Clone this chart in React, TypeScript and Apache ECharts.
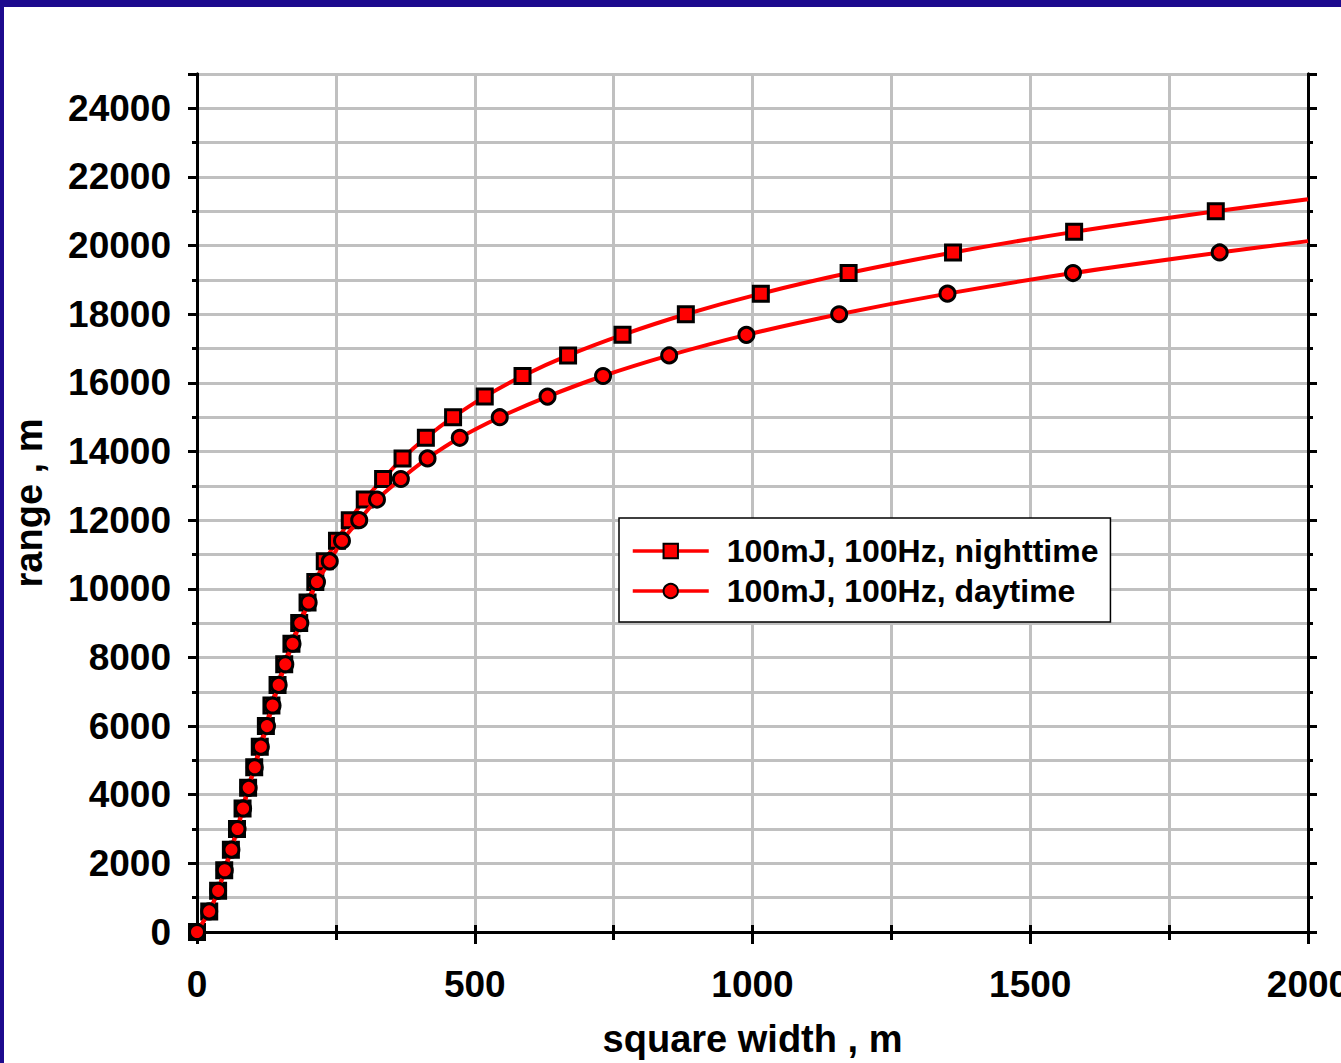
import React, { useEffect, useRef } from "react";
import * as echarts from "echarts";

// range (m) at which each marker sits, and the square width (m)
const rangeNight = [
  0, 600, 1200, 1800, 2400, 3000, 3600, 4200, 4800, 5400, 6000, 6600, 7200, 7800, 8400, 9000, 9600, 10200,
  10800, 11400, 12000, 12600, 13200, 13800, 14400, 15000, 15600, 16200, 16800, 17400, 18000, 18600, 19200,
  19800, 20400, 21000,
];
const widthNight = [
  0, 22, 38, 49, 61, 72, 82, 92, 103, 113, 124, 134, 145, 157, 170, 184, 199, 213, 230, 252, 275, 302, 335,
  370, 412, 461, 518, 586, 668, 766, 880, 1015, 1173, 1361, 1579, 1834,
];
const rangeDay = [
  0, 600, 1200, 1800, 2400, 3000, 3600, 4200, 4800, 5400, 6000, 6600, 7200, 7800, 8400, 9000, 9600, 10200,
  10800, 11400, 12000, 12600, 13200, 13800, 14400, 15000, 15600, 16200, 16800, 17400, 18000, 18600, 19200,
  19800,
];
const widthDay = [
  0, 22, 38, 50, 62, 73, 83, 93, 104, 115, 126, 136, 147, 159, 172, 186, 201, 216, 239, 261, 292, 324, 367,
  415, 473, 545, 631, 731, 850, 989, 1156, 1351, 1577, 1841,
];
// where each curve meets the right edge of the plot
const nightTrendEnd = [2000, 21350];
const dayTrendEnd = [2000, 20130];

const seriesNames = ["100mJ, 100Hz, nighttime", "100mJ, 100Hz, daytime"];
const xAxisTitle = "square width , m";
const yAxisTitle = "range , m";

const FONT = "'Liberation Sans', Arial, Helvetica, sans-serif";
const RED = "#ff0000";
const GRID = "#c0c0c0";

export default function App() {
  const ref = useRef<HTMLDivElement>(null);

  useEffect(() => {
    if (!ref.current) return;
    const chart = echarts.init(ref.current, undefined, { renderer: "svg" });

    const nightData: any[] = widthNight.map((w, i) => [w, rangeNight[i]]);
    nightData.push({ value: nightTrendEnd, symbol: "none" });
    const dayData: any[] = widthDay.map((w, i) => [w, rangeDay[i]]);
    dayData.push({ value: dayTrendEnd, symbol: "none" });

    const blackLine = { show: true, lineStyle: { color: "#000", width: 3 } };
    const labelStyle = { color: "#000", fontFamily: FONT, fontWeight: "bold" as const, fontSize: 37 };

    chart.setOption({
      animation: false,
      backgroundColor: "#fff",
      graphic: [
        { type: "rect", shape: { x: 0, y: 0, width: 1341, height: 7 }, style: { fill: "#1d0a8e" }, z: 100 },
        { type: "rect", shape: { x: 0, y: 0, width: 4, height: 1063 }, style: { fill: "#1d0a8e" }, z: 100 },
      ],
      grid: { left: 197, top: 74, right: 33, bottom: 131, containLabel: false, outerBoundsMode: "none" },
      legend: {
        orient: "vertical",
        left: 619,
        top: 518,
        backgroundColor: "#fff",
        borderColor: "#000",
        borderWidth: 1.5,
        borderRadius: 0,
        padding: [17, 12, 15, 12],
        itemWidth: 76,
        itemHeight: 18,
        itemGap: 8,
        lineStyle: { width: 3.5, color: RED },
        textStyle: {
          color: "#000",
          fontFamily: FONT,
          fontWeight: "bold",
          fontSize: 32,
          lineHeight: 31,
          padding: [0, 0, 0, 13],
        },
        data: seriesNames,
      },
      xAxis: [
        {
          type: "value",
          position: "bottom",
          min: 0,
          max: 2000,
          interval: 500,
          name: xAxisTitle,
          nameLocation: "middle",
          nameGap: 88,
          nameTextStyle: { color: "#000", fontFamily: FONT, fontWeight: "bold", fontSize: 38, lineHeight: 38 },
          axisLine: blackLine,
          axisTick: { show: true, inside: false, length: 12, lineStyle: { color: "#000", width: 3 } },
          minorTick: { show: true, splitNumber: 2, length: 8, lineStyle: { color: "#000", width: 3 } },
          splitLine: { show: true, lineStyle: { color: GRID, width: 3 } },
          minorSplitLine: { show: true, lineStyle: { color: GRID, width: 3 } },
          axisLabel: { ...labelStyle, margin: 34, formatter: (v: number) => String(v) },
        },
        {
          type: "value",
          position: "top",
          min: 0,
          max: 2000,
          interval: 250,
          axisLine: blackLine,
          axisTick: { show: true, inside: false, length: 7, lineStyle: { color: "#000", width: 3 } },
          splitLine: { show: false },
          axisLabel: { show: false },
        },
      ],
      yAxis: [
        {
          type: "value",
          position: "left",
          min: 0,
          max: 25000,
          interval: 1000,
          axisLine: blackLine,
          axisTick: { show: true, inside: false, length: 5, lineStyle: { color: "#000", width: 3 } },
          splitLine: { show: true, lineStyle: { color: GRID, width: 3 } },
          axisLabel: { show: false },
        },
        {
          type: "value",
          position: "left",
          min: 0,
          max: 25000,
          interval: 2000,
          name: yAxisTitle,
          nameLocation: "middle",
          nameRotate: 90,
          nameGap: 149,
          nameTextStyle: { color: "#000", fontFamily: FONT, fontWeight: "bold", fontSize: 38 },
          axisLine: blackLine,
          axisTick: { show: true, inside: false, length: 9, lineStyle: { color: "#000", width: 3 } },
          splitLine: { show: false },
          axisLabel: {
            ...labelStyle,
            margin: 26,
            formatter: (v: number) => (v % 2000 === 0 ? String(v) : ""),
          },
        },
        {
          type: "value",
          position: "right",
          min: 0,
          max: 25000,
          interval: 1000,
          axisLine: blackLine,
          axisTick: { show: true, inside: false, length: 5, lineStyle: { color: "#000", width: 3 } },
          splitLine: { show: false },
          axisLabel: { show: false },
        },
        {
          type: "value",
          position: "right",
          min: 0,
          max: 25000,
          interval: 2000,
          axisLine: blackLine,
          axisTick: { show: true, inside: false, length: 9, lineStyle: { color: "#000", width: 3 } },
          splitLine: { show: false },
          axisLabel: { show: false },
        },
      ],
      series: [
        {
          name: seriesNames[0],
          type: "line",
          xAxisIndex: 0,
          yAxisIndex: 0,
          smooth: 0.3,
          symbol: "rect",
          symbolSize: 15,
          showAllSymbol: true,
          lineStyle: { color: RED, width: 4 },
          itemStyle: { color: RED, borderColor: "#000", borderWidth: 3 },
          data: nightData,
          z: 3,
        },
        {
          name: seriesNames[1],
          type: "line",
          xAxisIndex: 0,
          yAxisIndex: 0,
          smooth: 0.3,
          symbol: "circle",
          symbolSize: 15,
          showAllSymbol: true,
          lineStyle: { color: RED, width: 4 },
          itemStyle: { color: RED, borderColor: "#000", borderWidth: 3 },
          data: dayData,
          z: 4,
        },
      ],
    });

    return () => chart.dispose();
  }, []);

  return (
    <div
      ref={ref}
      style={{ position: "fixed", left: 0, top: 0, width: 1341, height: 1063, background: "#fff" }}
    />
  );
}
